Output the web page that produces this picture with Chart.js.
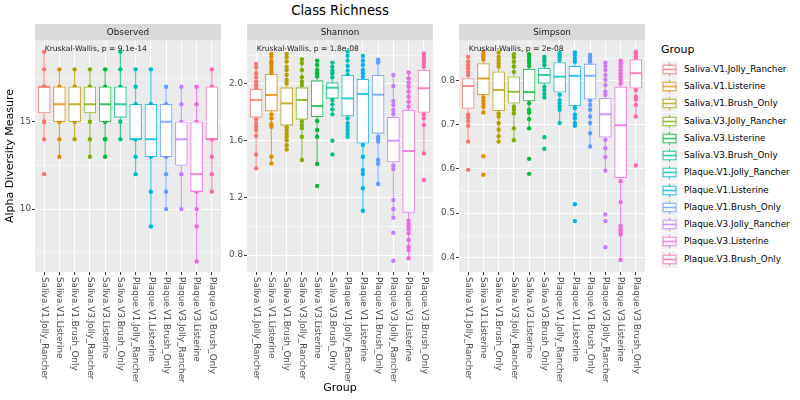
<!DOCTYPE html>
<html>
<head>
<meta charset="utf-8">
<script src="https://cdn.jsdelivr.net/npm/chart.js@4.4.1/dist/chart.umd.min.js"></script>
<style>
  html, body { margin:0; padding:0; background:#fff; }
  #wrap { position:relative; width:800px; height:400px; overflow:hidden; font-family:"DejaVu Sans", sans-serif; }
  canvas { position:absolute; top:0; }
  .title { position:absolute; left:0; width:680px; top:2px; text-align:center; font-size:13.2px; color:#000; line-height:18px; }
  .xtitle { position:absolute; left:35px; width:610px; top:380px; text-align:center; font-size:11px; color:#000; line-height:16px; }
  .ytitle { position:absolute; left:-110px; top:148px; width:240px; text-align:center; font-size:11px; color:#000; line-height:16px; transform:rotate(-90deg); }
  .lg-title { position:absolute; left:661px; top:42px; font-size:11px; color:#000; line-height:16px; }
  .lg-item { position:absolute; left:661px; height:17px; }
  .lg-item svg { position:absolute; left:0; top:0; }
  .lg-item span { position:absolute; left:23px; top:0; line-height:17px; font-size:8.8px; color:#000; white-space:nowrap; }
</style>
</head>
<body>
<div id="wrap">
  <div class="title">Class Richness</div>
  <canvas id="c1" width="225" height="400" style="left:0px"></canvas>
  <canvas id="c2" width="225" height="400" style="left:212px"></canvas>
  <canvas id="c3" width="225" height="400" style="left:424px"></canvas>
  <div class="ytitle">Alpha Diversity Measure</div>
  <div class="xtitle">Group</div>
  <div class="lg-title">Group</div>
  <div id="legend"></div>
</div>
<script>
// ---------- data ----------
const groups = ['Saliva.V1.Jolly_Rancher','Saliva.V1.Listerine','Saliva.V1.Brush_Only','Saliva.V3.Jolly_Rancher','Saliva.V3.Listerine','Saliva.V3.Brush_Only','Plaque.V1.Jolly_Rancher','Plaque.V1.Listerine','Plaque.V1.Brush_Only','Plaque.V3.Jolly_Rancher','Plaque.V3.Listerine','Plaque.V3.Brush_Only'];
const groupColors = ['#F8766D','#DE8C00','#B79F00','#7CAE00','#00BA38','#00C08B','#00BFC4','#00B4F0','#619CFF','#C77CFF','#F564E3','#FF64B0'];
const facetNames = ['Observed','Shannon','Simpson'];
const kwLabels = ['Kruskal-Wallis, p = 9.1e-14','Kruskal-Wallis, p = 1.8e-08','Kruskal-Wallis, p = 2e-08'];

// box stats: [lower whisker, Q1, median, Q3, upper whisker]
const observedStats = [
  [14,15.5,17,17,19],[13,15,16,17,18],[14,15,16,17,18],[13,15.5,16,17,18],
  [13,15,16,17,18],[14,15.25,16,17,19],[12,14,14,16,18],[9,13,14,16,18],
  [10,13,15,16,17],[10,12.5,14,15,17],[7,11,12,15,17],[11,14,14,17,18]];
const observedPoints = [
  [19,18,17,17,16,16,15,15,14,12],[18,17,16,16,15,15,14,13],[18,17,16,16,15,14],[18,17,16,16,15,14,13],
  [18,17,16,16,15,14,14,13],[19,18,17,16,16,15,14],[18,17,16,15,14,14,13,12],[18,16,15,14,13,11,9],
  [17,16,15,13,12,11,10],[17,16,15,14,12,10],[17,16,15,12,11,10,9,7],[18,17,14,13,12,11]];

const shannonStats = [
  [1.41,1.766,1.888,1.963,2.14],[1.443,1.81,1.923,2.068,2.21],[1.54,1.71,1.864,1.974,2.21],[1.467,1.752,1.888,1.974,2.173],
  [1.439,1.77,1.846,2.023,2.164],[1.787,1.899,1.974,2.009,2.15],[1.63,1.775,1.899,2.061,2.227],[1.111,1.584,1.93,2.033,2.196],
  [1.298,1.654,1.925,2.061,2.17],[1.062,1.453,1.602,1.766,2.063],[0.776,1.099,1.53,1.818,2.08],[1.513,1.80,1.97,2.098,2.215]];
const shannonPoints = [
  [2.14,2.115,2.075,2.047,2.016,1.993,1.97,1.90,1.85,1.80,1.752,1.724,1.70,1.677,1.637,1.506,1.408],
  [2.21,2.19,2.16,2.145,2.12,2.10,2.08,1.95,1.88,1.787,1.76,1.72,1.70,1.49,1.443],
  [2.21,2.187,2.157,2.12,2.098,2.063,2.028,2.005,1.9,1.8,1.696,1.677,1.653,1.63,1.606,1.571,1.54],
  [2.173,2.145,2.098,2.047,2.016,1.993,1.9,1.8,1.736,1.71,1.69,1.63,1.467],
  [2.164,2.133,2.098,2.075,2.052,1.95,1.8,1.74,1.677,1.63,1.439,1.284],
  [2.15,2.12,2.094,2.075,2.047,1.95,1.888,1.857,1.822,1.787,1.602,1.506],
  [2.227,2.196,2.164,2.126,2.094,2.063,1.95,1.85,1.759,1.724,1.70,1.677,1.653,1.63],
  [2.196,2.164,2.133,2.098,2.075,2.05,1.95,1.8,1.7,1.572,1.49,1.396,1.368,1.268,1.111],
  [2.17,2.16,2.15,2.0,1.8,1.63,1.612,1.596,1.467,1.44,1.298],
  [2.063,1.986,1.88,1.852,1.817,1.79,1.7,1.5,1.427,1.404,1.186,1.123,1.062,0.957,0.76],
  [2.08,2.04,2.009,1.981,1.946,1.911,1.876,1.841,1.6,1.3,1.041,1.018,0.999,0.98,0.952,0.905,0.858,0.835,0.777],
  [2.215,2.19,2.17,2.145,2.12,2.0,1.9,1.787,1.76,1.712,1.513,1.326]];

const simpsonStats = [
  [0.662,0.737,0.788,0.805,0.854],[0.728,0.768,0.805,0.839,0.865],[0.659,0.732,0.779,0.82,0.864],[0.665,0.749,0.775,0.809,0.86],
  [0.692,0.754,0.774,0.826,0.86],[0.762,0.794,0.813,0.828,0.854],[0.704,0.774,0.809,0.841,0.863],[0.698,0.743,0.811,0.833,0.864],
  [0.651,0.758,0.811,0.838,0.859],[0.596,0.672,0.724,0.76,0.841],[0.394,0.58,0.699,0.786,0.845],[0.719,0.783,0.817,0.848,0.865]];
const simpsonPoints = [
  [0.854,0.843,0.835,0.828,0.82,0.813,0.79,0.76,0.723,0.717,0.708,0.698,0.662,0.598],
  [0.865,0.859,0.854,0.848,0.82,0.79,0.762,0.755,0.749,0.741,0.728,0.629,0.587],
  [0.864,0.854,0.847,0.839,0.832,0.8,0.76,0.726,0.719,0.704,0.689,0.674,0.662],
  [0.86,0.853,0.843,0.832,0.82,0.79,0.76,0.741,0.734,0.726,0.692,0.665],
  [0.86,0.854,0.848,0.841,0.833,0.8,0.765,0.749,0.734,0.728,0.713,0.692,0.623,0.589],
  [0.854,0.848,0.843,0.835,0.82,0.805,0.786,0.779,0.77,0.762,0.672,0.646],
  [0.863,0.858,0.853,0.847,0.83,0.79,0.768,0.756,0.749,0.741,0.734,0.704],
  [0.864,0.858,0.85,0.843,0.82,0.78,0.738,0.723,0.715,0.704,0.698,0.52,0.482],
  [0.859,0.854,0.848,0.843,0.82,0.78,0.755,0.745,0.734,0.719,0.704,0.681,0.651],
  [0.841,0.833,0.824,0.813,0.802,0.79,0.775,0.768,0.74,0.7,0.666,0.647,0.627,0.596,0.497,0.482,0.423],
  [0.845,0.839,0.832,0.824,0.817,0.809,0.802,0.794,0.75,0.65,0.572,0.525,0.471,0.463,0.458,0.452,0.394],
  [0.865,0.862,0.856,0.852,0.83,0.8,0.779,0.764,0.758,0.745,0.719,0.608]];

const observedRange = [6.4, 19.65];
const shannonRange = [0.681, 2.305];
const simpsonRange = [0.3667, 0.891];
const observedMajor = [10, 15];
const observedMinor = [7.5, 12.5, 17.5];
const shannonMajor = [0.8, 1.2, 1.6, 2.0];
const shannonMinor = [1.0, 1.4, 1.8, 2.2];
const simpsonMajor = [0.4, 0.5, 0.6, 0.7, 0.8];
const simpsonMinor = [0.45, 0.55, 0.65, 0.75, 0.85];

// ---------- helpers ----------
const FONT = '"DejaVu Sans", sans-serif';
function rgba(hex, a) {
  const n = parseInt(hex.slice(1), 16);
  return `rgba(${(n>>16)&255},${(n>>8)&255},${n&255},${a})`;
}
const LINE_ALPHA = 0.8;
const BOX_W = 12;

const panelPlugin = {
  id: 'panel',
  beforeDraw(chart, args, o) {
    const {ctx, chartArea: a} = chart;
    ctx.save();
    ctx.fillStyle = '#EBEBEB';
    ctx.fillRect(a.left, a.top, a.right - a.left, a.bottom - a.top);
    ctx.fillStyle = '#D9D9D9';
    ctx.fillRect(a.left, 24, a.right - a.left, a.top - 24);
    ctx.fillStyle = '#1A1A1A';
    ctx.font = '8.8px ' + FONT;
    ctx.textAlign = 'center';
    ctx.textBaseline = 'middle';
    ctx.fillText(o.facet, (a.left + a.right) / 2, (24 + a.top) / 2 + 0.5);
    ctx.restore();
  },
  beforeDatasetsDraw(chart, args, o) {
    const {ctx} = chart;
    const xs = chart.scales.x, ys = chart.scales.y;
    ctx.save();
    ctx.lineWidth = 1.1;
    o.stats.forEach((s, i) => {
      const x = xs.getPixelForValue(i + 1);
      ctx.strokeStyle = rgba(groupColors[i], LINE_ALPHA);
      ctx.beginPath();
      ctx.moveTo(x, ys.getPixelForValue(s[3]));
      ctx.lineTo(x, ys.getPixelForValue(s[4]));
      ctx.moveTo(x, ys.getPixelForValue(s[1]));
      ctx.lineTo(x, ys.getPixelForValue(s[0]));
      ctx.stroke();
    });
    ctx.restore();
  },
  afterDatasetsDraw(chart, args, o) {
    const {ctx, chartArea: a} = chart;
    const xs = chart.scales.x, ys = chart.scales.y;
    ctx.save();
    ctx.lineWidth = 2;
    o.stats.forEach((s, i) => {
      const x = xs.getPixelForValue(i + 1);
      const y = ys.getPixelForValue(s[2]);
      ctx.strokeStyle = rgba(groupColors[i], LINE_ALPHA);
      ctx.beginPath();
      ctx.moveTo(x - BOX_W / 2, y);
      ctx.lineTo(x + BOX_W / 2, y);
      ctx.stroke();
    });
    ctx.fillStyle = '#1A1A1A';
    ctx.font = '7.6px ' + FONT;
    ctx.textAlign = 'left';
    ctx.textBaseline = 'middle';
    ctx.fillText(o.kw, xs.getPixelForValue(1) + 0.5, a.top + 9);
    ctx.restore();
  },
  afterDraw(chart) {
    const {ctx, chartArea: a} = chart;
    const xs = chart.scales.x;
    ctx.save();
    ctx.fillStyle = '#4D4D4D';
    ctx.font = '8.8px ' + FONT;
    ctx.textAlign = 'left';
    ctx.textBaseline = 'middle';
    groups.forEach((g, i) => {
      const x = xs.getPixelForValue(i + 1);
      ctx.save();
      ctx.translate(x, a.bottom + 5);
      ctx.rotate(Math.PI / 2);
      ctx.fillText(g, 0, 0);
      ctx.restore();
    });
    ctx.restore();
  }
};

function isIn(arr, v) { return arr.some(m => Math.abs(m - v) < 1e-9); }

function makePanel(id, idx, stats, points, range, major, minor, fmt) {
  const pts = [], ptCols = [];
  points.forEach((list, i) => list.forEach(v => { pts.push({x: i + 1, y: v}); ptCols.push(groupColors[i]); }));
  const allTicks = major.concat(minor).sort((a, b) => a - b);
  new Chart(document.getElementById(id), {
    type: 'bar',
    data: {
      datasets: [
        {
          type: 'bar',
          data: stats.map((s, i) => ({x: i + 1, y: [s[1], s[3]]})),
          backgroundColor: '#FFFFFF',
          borderColor: groupColors.map(c => rgba(c, LINE_ALPHA)),
          borderWidth: 1.1,
          borderSkipped: false,
          barThickness: BOX_W,
          order: 0
        },
        {
          type: 'scatter',
          data: pts,
          pointBackgroundColor: ptCols,
          pointBorderWidth: 0,
          pointRadius: 2.2,
          pointHoverRadius: 2.2,
          order: 1
        }
      ]
    },
    options: {
      responsive: false,
      animation: false,
      events: [],
      layout: { padding: { left: 0, right: 4, top: 40.5, bottom: 0 } },
      plugins: {
        legend: { display: false },
        tooltip: { enabled: false },
        panel: { facet: facetNames[idx], kw: kwLabels[idx], stats: stats }
      },
      scales: {
        x: {
          type: 'linear', min: 0.4, max: 12.6, offset: false,
          afterBuildTicks(s) { s.ticks = groups.map((g, i) => ({value: i + 1})); },
          afterFit(s) { s.height = 128; },
          grid: { offset: false, color: '#FFFFFF', lineWidth: 1.07, tickColor: '#333333', tickLength: 3, tickWidth: 1, drawTicks: true },
          border: { display: false },
          ticks: { display: false, autoSkip: false }
        },
        y: {
          type: 'linear', min: range[0], max: range[1],
          afterBuildTicks(s) { s.ticks = allTicks.map(v => ({value: v})); },
          afterFit(s) { s.width = 35; },
          grid: {
            color: '#FFFFFF',
            lineWidth: c => (c.tick && isIn(major, c.tick.value)) ? 1.07 : 0.53,
            tickColor: c => (c.tick && isIn(major, c.tick.value)) ? '#333333' : 'rgba(0,0,0,0)',
            tickLength: 3, tickWidth: 1, drawTicks: true
          },
          border: { display: false },
          ticks: {
            autoSkip: false, padding: 1, color: '#4D4D4D',
            font: { family: 'DejaVu Sans', size: 8.8 },
            callback: v => isIn(major, v) ? fmt(v) : ''
          }
        }
      }
    },
    plugins: [panelPlugin]
  });
}

makePanel('c1', 0, observedStats, observedPoints, observedRange, observedMajor, observedMinor, v => String(v));
makePanel('c2', 1, shannonStats, shannonPoints, shannonRange, shannonMajor, shannonMinor, v => v.toFixed(1));
makePanel('c3', 2, simpsonStats, simpsonPoints, simpsonRange, simpsonMajor, simpsonMinor, v => v.toFixed(1));

// ---------- legend ----------
const lg = document.getElementById('legend');
groups.forEach((g, i) => {
  const c = rgba(groupColors[i], LINE_ALPHA);
  const top = 60.7 + i * 17.27;
  const d = document.createElement('div');
  d.className = 'lg-item';
  d.style.top = top + 'px';
  d.innerHTML =
    `<svg width="17" height="17" viewBox="0 0 17 17">` +
    `<rect x="0" y="0" width="17" height="17" fill="#F2F2F2"/>` +
    `<line x1="8.5" y1="1.7" x2="8.5" y2="4.25" stroke="${c}" stroke-width="1.1"/>` +
    `<line x1="8.5" y1="12.75" x2="8.5" y2="15.3" stroke="${c}" stroke-width="1.1"/>` +
    `<rect x="2.1" y="4.25" width="12.8" height="8.5" fill="#FFFFFF" stroke="${c}" stroke-width="1.1"/>` +
    `<line x1="2.1" y1="8.5" x2="14.9" y2="8.5" stroke="${c}" stroke-width="1.6"/>` +
    `</svg><span>${g}</span>`;
  lg.appendChild(d);
});
</script>
</body>
</html>
